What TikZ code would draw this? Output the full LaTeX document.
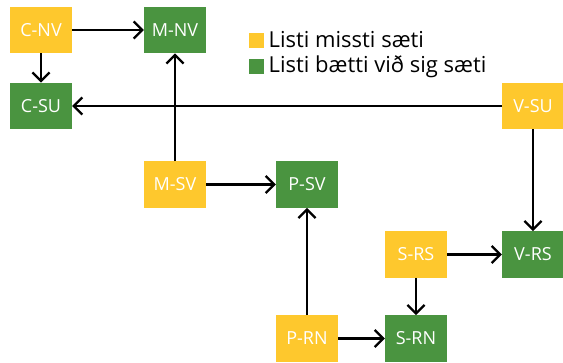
\documentclass[tikz,border=0pt]{standalone}
\usepackage{fontspec}
\setmainfont{Open Sans}
\usetikzlibrary{arrows.meta}
\definecolor{lossY}{RGB}{254,200,45}
\definecolor{gainG}{RGB}{74,148,64}
\tikzset{
  box/.style={minimum width=62pt, minimum height=46.5pt, inner sep=0pt, text=white,
    font=\fontsize{18}{20}\selectfont},
  lossbox/.style={box, fill=lossY},
  gainbox/.style={box, fill=gainG},
  arr/.style={line width=2.3pt, -{Straight Barb[length=8.5pt,width=17pt,line width=2.3pt]}},
  legsq/.style={minimum size=15pt, inner sep=0pt},
  legtxt/.style={anchor=base west, inner sep=0pt, font=\fontsize{22}{24}\selectfont}
}
\begin{document}
\begin{tikzpicture}[x=1pt,y=-1pt]
\useasboundingbox (0,0) rectangle (563,363);
\node[lossbox] (cnv) at (41,30) {C-NV};
\node[gainbox] (mnv) at (175,30) {M-NV};
\node[gainbox] (csu) at (41,106) {C-SU};
\node[lossbox] (vsu) at (533,106) {V-SU};
\node[lossbox] (msv) at (175,184.5) {M-SV};
\node[gainbox] (psv) at (307,184.5) {P-SV};
\node[lossbox] (srs) at (416,254.5) {S-RS};
\node[gainbox] (vrs) at (533,254.5) {V-RS};
\node[lossbox] (prn) at (307,338.5) {P-RN};
\node[gainbox] (srn) at (416,338.5) {S-RN};

\node[legsq, fill=lossY] (ly) at (256.5,40.5) {};
\node[legsq, fill=gainG] (lg) at (256.5,66.5) {};
\node[legtxt] (lyt) at (268.5,48) {Listi missti sæti};
\node[legtxt] (lgt) at (268.5,73) {Listi bætti við sig sæti};

\draw[arr] (cnv) -- (mnv);
\draw[arr] (cnv) -- (csu);
\draw[arr] (vsu) -- (csu);
\draw[arr] (msv) -- (mnv);
\draw[arr] (msv) -- (psv);
\draw[arr] (prn) -- (psv);
\draw[arr] (prn) -- (srn);
\draw[arr] (srs) -- (srn);
\draw[arr] (srs) -- (vrs);
\draw[arr] (vsu) -- (vrs);
\end{tikzpicture}
\end{document}
